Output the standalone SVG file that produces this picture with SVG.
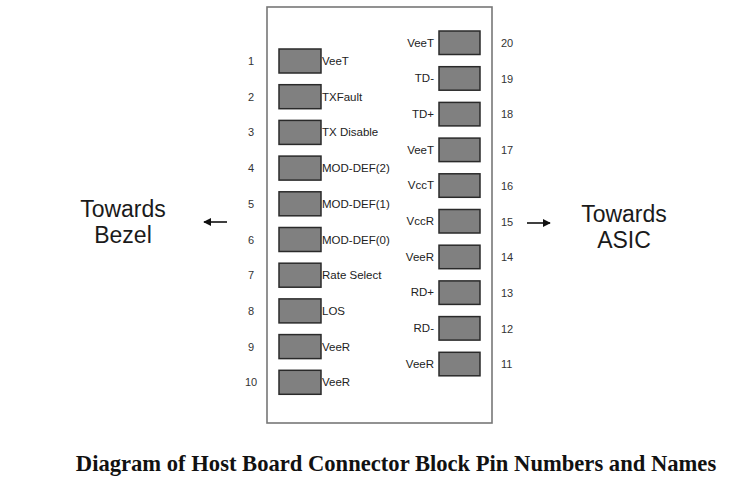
<svg xmlns="http://www.w3.org/2000/svg" width="731" height="492" viewBox="0 0 731 492">
<style>
.pad{fill:#808080;stroke:#2a2a2a;stroke-width:1.5}
.lbl{font-family:"Liberation Sans",Arial,sans-serif;font-size:11.5px;fill:#222}
.num{font-family:"Liberation Sans",Arial,sans-serif;font-size:11px;fill:#333}
.big{font-family:"Liberation Sans",Arial,sans-serif;font-size:23px;fill:#1a1a1a;text-anchor:middle}
.title{font-family:"Liberation Serif","Times New Roman",serif;font-size:22.6px;font-weight:bold;fill:#111;text-anchor:middle}
.conn{stroke:#111;stroke-width:1.6;fill:none}
</style>
<defs>
<marker id="ah" viewBox="0 0 10 10" refX="9" refY="5" markerWidth="5.2" markerHeight="5.2" orient="auto">
<path d="M0,0 L10,5 L0,10 z" fill="#111"/>
</marker>
</defs>
<rect x="0" y="0" width="731" height="492" fill="#fff"/>
<g id="connector-block">
<rect x="267" y="7" width="225" height="416" fill="#fff" stroke="#777" stroke-width="1.6"/>
</g>
<g id="pin1"><rect class="pad" x="279" y="49" width="42" height="24"/><text class="num" x="251" y="65" text-anchor="middle">1</text><text class="lbl" x="322" y="65">VeeT</text></g>
<g id="pin2"><rect class="pad" x="279" y="84.7" width="42" height="24"/><text class="num" x="251" y="100.7" text-anchor="middle">2</text><text class="lbl" x="322" y="100.7">TXFault</text></g>
<g id="pin3"><rect class="pad" x="279" y="120.4" width="42" height="24"/><text class="num" x="251" y="136.4" text-anchor="middle">3</text><text class="lbl" x="322" y="136.4">TX Disable</text></g>
<g id="pin4"><rect class="pad" x="279" y="156.1" width="42" height="24"/><text class="num" x="251" y="172.1" text-anchor="middle">4</text><text class="lbl" x="322" y="172.1">MOD-DEF(2)</text></g>
<g id="pin5"><rect class="pad" x="279" y="191.8" width="42" height="24"/><text class="num" x="251" y="207.8" text-anchor="middle">5</text><text class="lbl" x="322" y="207.8">MOD-DEF(1)</text></g>
<g id="pin6"><rect class="pad" x="279" y="227.5" width="42" height="24"/><text class="num" x="251" y="243.5" text-anchor="middle">6</text><text class="lbl" x="322" y="243.5">MOD-DEF(0)</text></g>
<g id="pin7"><rect class="pad" x="279" y="263.2" width="42" height="24"/><text class="num" x="251" y="279.2" text-anchor="middle">7</text><text class="lbl" x="322" y="279.2">Rate Select</text></g>
<g id="pin8"><rect class="pad" x="279" y="298.9" width="42" height="24"/><text class="num" x="251" y="314.9" text-anchor="middle">8</text><text class="lbl" x="322" y="314.9">LOS</text></g>
<g id="pin9"><rect class="pad" x="279" y="334.6" width="42" height="24"/><text class="num" x="251" y="350.6" text-anchor="middle">9</text><text class="lbl" x="322" y="350.6">VeeR</text></g>
<g id="pin10"><rect class="pad" x="279" y="370.3" width="42" height="24"/><text class="num" x="251" y="386.3" text-anchor="middle">10</text><text class="lbl" x="322" y="386.3">VeeR</text></g>
<g id="pin20"><rect class="pad" x="439" y="31" width="41" height="23.5"/><text class="num" x="501" y="47">20</text><text class="lbl" x="434" y="46.5" text-anchor="end">VeeT</text></g>
<g id="pin19"><rect class="pad" x="439" y="66.7" width="41" height="23.5"/><text class="num" x="501" y="82.7">19</text><text class="lbl" x="434" y="82.2" text-anchor="end">TD-</text></g>
<g id="pin18"><rect class="pad" x="439" y="102.4" width="41" height="23.5"/><text class="num" x="501" y="118.4">18</text><text class="lbl" x="434" y="117.9" text-anchor="end">TD+</text></g>
<g id="pin17"><rect class="pad" x="439" y="138.1" width="41" height="23.5"/><text class="num" x="501" y="154.1">17</text><text class="lbl" x="434" y="153.6" text-anchor="end">VeeT</text></g>
<g id="pin16"><rect class="pad" x="439" y="173.8" width="41" height="23.5"/><text class="num" x="501" y="189.8">16</text><text class="lbl" x="434" y="189.3" text-anchor="end">VccT</text></g>
<g id="pin15"><rect class="pad" x="439" y="209.5" width="41" height="23.5"/><text class="num" x="501" y="225.5">15</text><text class="lbl" x="434" y="225" text-anchor="end">VccR</text></g>
<g id="pin14"><rect class="pad" x="439" y="245.2" width="41" height="23.5"/><text class="num" x="501" y="261.2">14</text><text class="lbl" x="434" y="260.7" text-anchor="end">VeeR</text></g>
<g id="pin13"><rect class="pad" x="439" y="280.9" width="41" height="23.5"/><text class="num" x="501" y="296.9">13</text><text class="lbl" x="434" y="296.4" text-anchor="end">RD+</text></g>
<g id="pin12"><rect class="pad" x="439" y="316.6" width="41" height="23.5"/><text class="num" x="501" y="332.6">12</text><text class="lbl" x="434" y="332.1" text-anchor="end">RD-</text></g>
<g id="pin11"><rect class="pad" x="439" y="352.3" width="41" height="23.5"/><text class="num" x="501" y="368.3">11</text><text class="lbl" x="434" y="367.8" text-anchor="end">VeeR</text></g>
<g id="bezel"><text class="big" x="123" y="217">Towards</text><text class="big" x="123" y="243">Bezel</text></g>
<g id="asic"><text class="big" x="624" y="222">Towards</text><text class="big" x="624" y="248">ASIC</text></g>
<g id="connectors">
<line class="conn" x1="227" y1="222" x2="204" y2="222" marker-end="url(#ah)"/>
<line class="conn" x1="527" y1="223" x2="550" y2="223" marker-end="url(#ah)"/>
</g>
<text class="title" x="396" y="471">Diagram of Host Board Connector Block Pin Numbers and Names</text>
</svg>
